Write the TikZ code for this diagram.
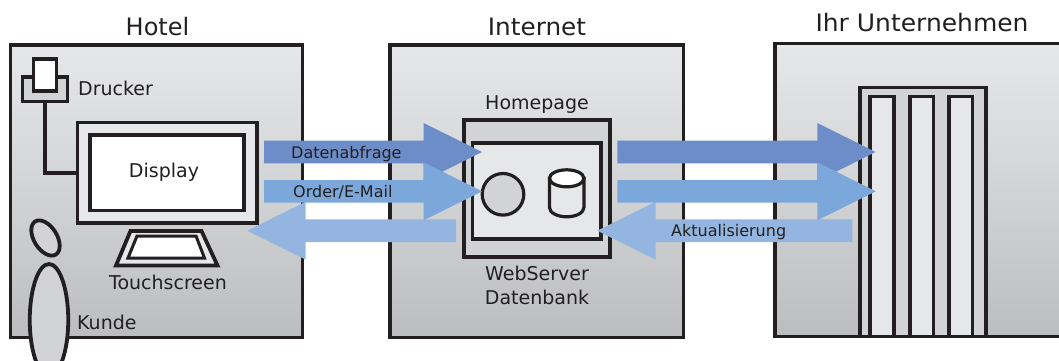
\documentclass[tikz,border=0pt]{standalone}
\usepackage{fontspec}
\setmainfont{DejaVu Sans}
\usetikzlibrary{calc,shapes.geometric}
\definecolor{ink}{HTML}{231F20}
\definecolor{lightgr}{HTML}{E6E7E8}
\definecolor{midgr}{HTML}{D1D3D4}
\definecolor{darkgr}{HTML}{BCBDBF}
\definecolor{flowa}{HTML}{6C8DC7}
\definecolor{flowb}{HTML}{7BA7DA}
\definecolor{flowc}{HTML}{94B5DF}
\tikzset{
  panel/.style={draw=ink,line width=3.8pt,top color=lightgr,bottom color=darkgr,middle color=midgr,inner sep=0pt,outer sep=0pt},
  boxm/.style={draw=ink,line width=3.8pt,fill=midgr,inner sep=0pt,outer sep=0pt},
  boxl/.style={draw=ink,line width=3.8pt,fill=lightgr,inner sep=0pt,outer sep=0pt},
  boxw/.style={draw=ink,line width=3.8pt,fill=white,inner sep=0pt,outer sep=0pt},
  wire/.style={draw=ink,line width=3.8pt},
  person/.style={shape=ellipse,draw=ink,line width=3.8pt,fill=midgr,inner sep=0pt,outer sep=0pt},
  title/.style={text=ink,font=\fontsize{24}{28}\selectfont,inner sep=0pt,anchor=base},
  lab/.style={text=ink,font=\fontsize{19}{22}\selectfont,inner sep=0pt,anchor=base},
  flowlab/.style={text=ink,font=\fontsize{16}{19}\selectfont,inner sep=0pt,anchor=base west},
}
\newcommand{\bx}[6]{\node[#1,minimum width={#5pt-#3pt},minimum height={#6pt-#4pt}] (#2) at ({(#3+#5)/2},{(#4+#6)/2}) {};}
\newcommand{\flowarrow}[3]{\fill[#1] let \p1=(#2), \p2=(#3), \n1={ifthenelse(\x2>\x1,-58.4,58.4)*1pt} in
  (\x1,\y1+11.3pt) -- (\x2+\n1,\y1+11.3pt) -- (\x2+\n1,\y1+29pt) -- (\x2,\y1) -- (\x2+\n1,\y1-29pt) -- (\x2+\n1,\y1-11.3pt) -- (\x1,\y1-11.3pt) -- cycle;}
\begin{document}
\begin{tikzpicture}[x=1pt,y=-1pt]
\clip (0,0) rectangle (1059,360);
% panels
\bx{panel}{hotel}{10.5}{45}{302.5}{337.5}
\bx{panel}{internet}{390}{45}{683.5}{337.5}
\bx{panel}{firm}{775}{43.5}{1075}{336.5}
\node[title] (thotel) at (157.5,35) {Hotel};
\node[title,xscale=1.03] (tinternet) at (537,35) {Internet};
\node[title,xscale=1.04] (tfirm) at (922,31) {Ihr Unternehmen};
% printer
\bx{boxm}{printer}{22.5}{77}{67.5}{101.5}
\bx{boxw}{paper}{33.5}{59}{56.5}{91}
\node[lab,anchor=base west] (tprinter) at (78,95) {Drucker};
% display
\bx{boxl}{monitor}{77.5}{122.5}{257}{223}
\bx{boxw}{screen}{90}{135}{244}{210.5}
\node[lab] (tdisplay) at (164,177) {Display};
\draw[wire] (printer.south) |- (monitor.west);
% touchscreen
\draw[boxl,line join=miter] (130.5,231) -- (201.5,231) -- (217.5,265.5) -- (116,265.5) -- cycle;
\draw[boxw,line width=3pt,line join=miter] (137,236) -- (196,236) -- (204.5,258) -- (128,258) -- cycle;
\node[lab] (ttouch) at (168,289) {Touchscreen};
% person
\node[person,minimum width=23pt,minimum height=39pt,rotate=32] (head) at (45.5,238) {};
\node[person,minimum width=38.5pt,minimum height=112pt] (body) at (49,320) {};
\node[lab,anchor=base west] (tkunde) at (77,329) {Kunde};
% server
\bx{boxm}{homepage}{463.7}{120}{610}{257}
\bx{boxl}{server}{472.5}{143}{601}{239}
\node[person,line width=3.2pt,minimum width=41.6pt,minimum height=41.6pt] (web) at (503,194.3) {};
\draw[ink,line width=3.2pt,fill=lightgr] (549.5,178.3) -- (549.5,207.5) arc[start angle=180,end angle=360,x radius=17.2pt,y radius=9.3pt] -- (583.9,178.3) -- cycle;
\draw[ink,line width=3.2pt,fill=white] (566.7,178.3) ellipse[x radius=17.2pt,y radius=8.5pt];
\node[lab] (thome) at (537,109.3) {Homepage};
\node[lab] (tweb) at (537,280.7) {WebServer};
\node[lab] (tdb) at (537,304) {Datenbank};
% rack
\bx{boxm}{rack}{860}{87.5}{986}{336.5}
\bx{boxl}{slota}{870}{96.5}{894}{336.5}
\bx{boxl}{slotb}{910}{96.5}{933.5}{336.5}
\bx{boxl}{slotc}{949}{96.5}{972.5}{336.5}
% flows
\coordinate (qa) at (264,152);
\coordinate (qb) at (482,152);
\coordinate (oa) at (264,191.3);
\coordinate (ob) at (482,191.3);
\coordinate (ra) at (456,230.7);
\coordinate (rb) at (247.3,230.7);
\coordinate (sa) at (617.3,152);
\coordinate (sb) at (875.7,152);
\coordinate (ta) at (617.3,191.3);
\coordinate (tb) at (875.7,191.3);
\coordinate (ua) at (852.3,230.7);
\coordinate (ub) at (597.3,230.7);
\flowarrow{flowc}{ra}{rb}
\flowarrow{flowc}{ua}{ub}
\flowarrow{flowa}{qa}{qb}
\flowarrow{flowa}{sa}{sb}
\flowarrow{flowb}{oa}{ob}
\flowarrow{flowb}{ta}{tb}
\node[flowlab] (lq) at (291,158.3) {Datenabfrage};
\node[flowlab] (lo) at (293,197.7) {Order/E-Mail};
\node[flowlab] (lu) at (671,236.7) {Aktualisierung};
\end{tikzpicture}
\end{document}
